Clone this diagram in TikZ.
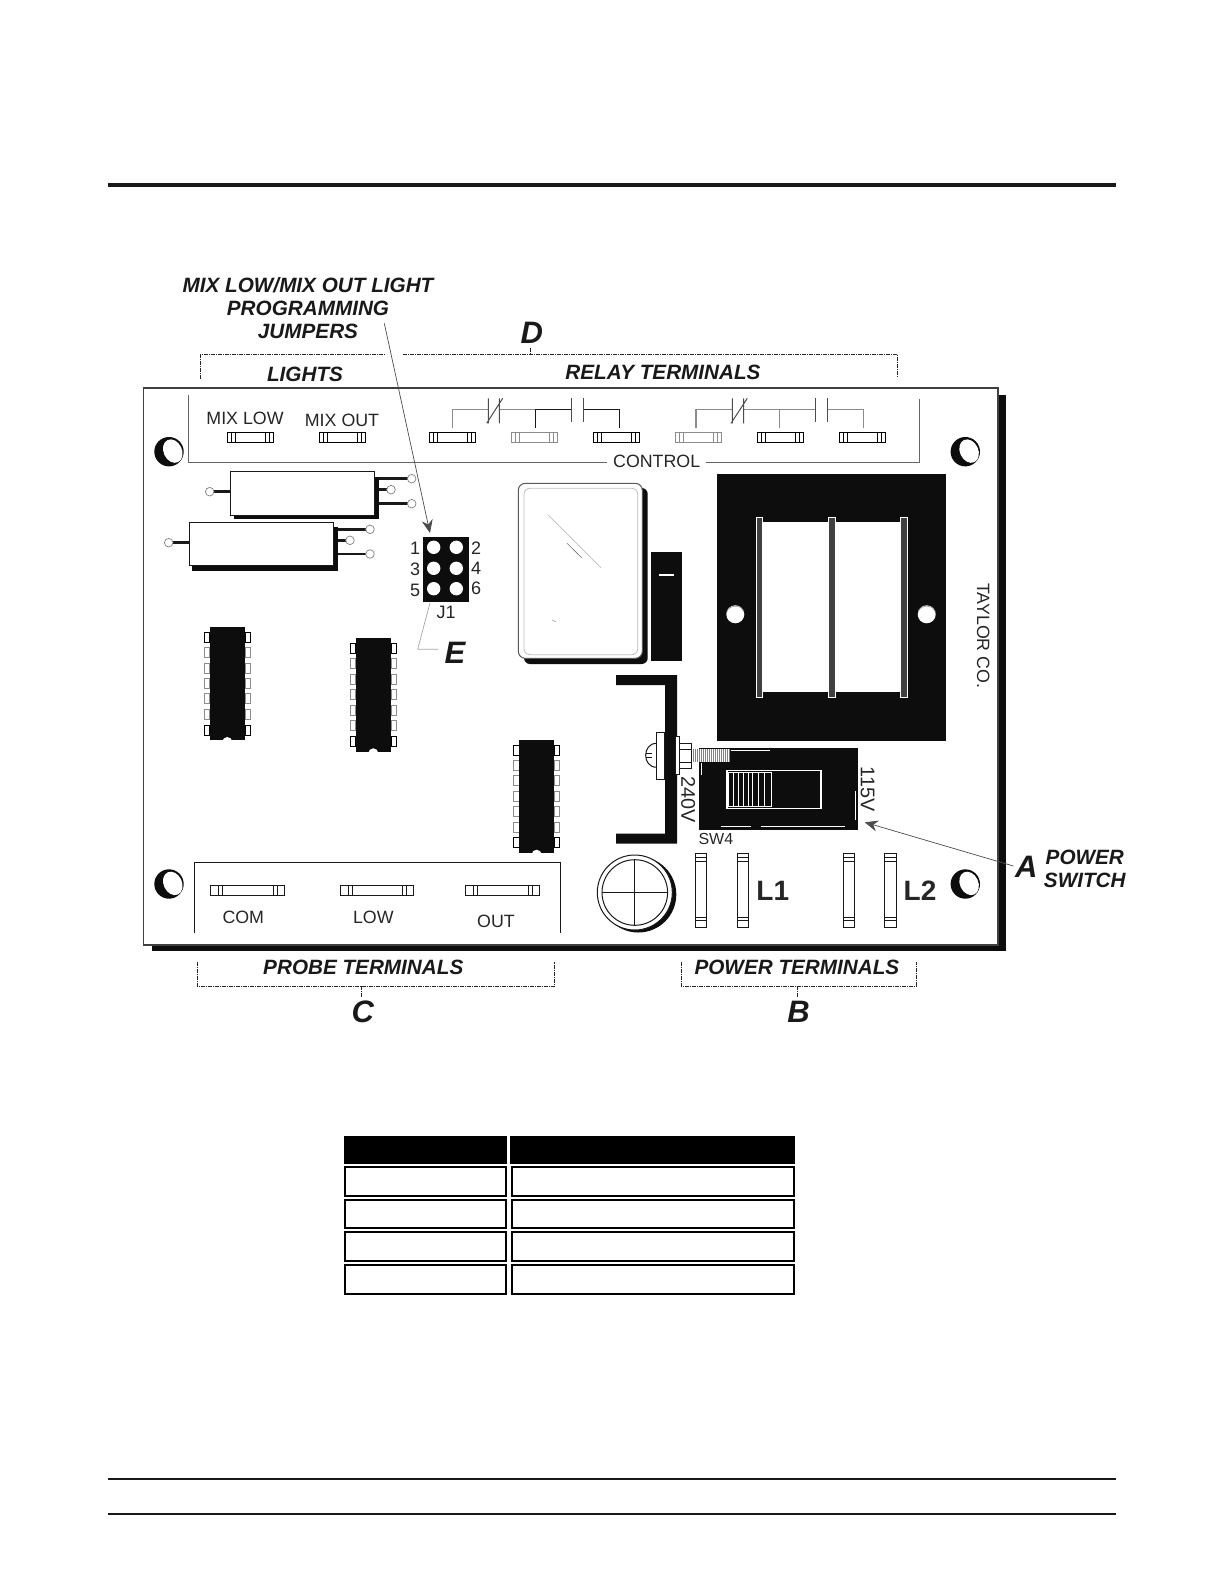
\documentclass[tikz,border=0pt]{standalone}
\usepackage{fontspec}
\setmainfont{Liberation Sans}
\usetikzlibrary{arrows.meta}
\tikzset{
	callout/.style={font=\fontsize{10.35}{11.6}\selectfont\bfseries\itshape,text=black!90,inner sep=0pt,align=center},
	bigletter/.style={font=\fontsize{15.5}{17}\selectfont\bfseries\itshape,text=black!90,inner sep=0pt},
	silk/.style={font=\fontsize{8.9}{10}\selectfont,text=black!85,inner sep=0pt},
	voltage/.style={font=\fontsize{9.9}{11}\selectfont,text=black!85,inner sep=0pt,rotate=-90},
	jumpernum/.style={font=\fontsize{9}{10}\selectfont,text=black!85,inner sep=0pt},
	linelabel/.style={font=\fontsize{14}{16}\selectfont\bfseries,text=black!85,inner sep=0pt},
	thinline/.style={line width=0.5pt,black!90},
	greywire/.style={line width=0.7pt,black!45},
	darkwire/.style={line width=0.5pt,black!90},
	bracketline/.style={line width=0.4pt,black!85,dash pattern=on 2pt off 0.5pt on 0.5pt off 0.5pt},
	pointer/.style={->,line width=0.35pt,black!70},
	pinline/.style={line width=1.3pt,black!90},
	pinhole/.style={line width=0.35pt,black!50,fill=white},
	tablecell/.style={line width=1pt,black}
}
\begin{document}
\begin{tikzpicture}[x=0.5pt,y=-0.5pt,>={Stealth[length=6.5pt,width=5.5pt]},line join=miter]
	\useasboundingbox (0,0) rectangle (1224,1584);
	% page rules
	\draw[line width=2.2pt,black!90] (108,185) -- (1116,185);
	\draw[line width=0.7pt,black!90] (108,1479) -- (1116,1479);
	\draw[line width=0.7pt,black!90] (108,1514) -- (1116,1514);
	% board
	\fill[black!95] (152,395) rectangle (1005.7,950.7);
	\draw[line width=0.8pt,black!75,fill=white] (143.5,388) rectangle (998,945);
	\draw[line width=0.5pt,black!60] (188.7,395) -- (188.7,462.3) -- (606.7,462.3);
	\draw[line width=0.5pt,black!60] (705.7,462.3) -- (919.3,462.3) -- (919.3,399);
	\draw[thinline] (194.3,933.3) -- (194.3,862.7) -- (560.7,862.7) -- (560.7,933.3);
	% mounting holes
	\foreach \hx/\hy in {169/451.7, 965.3/451.7, 169/884, 965.3/884}{
		\fill[black!95] (\hx,\hy) circle [radius=14.7];
		\fill[white,rotate around={25:(\hx+3.8,\hy-0.6)}] (\hx+3.8,\hy-0.6) ellipse [x radius=9.2, y radius=12.2];
	}
	% top row of terminals
	\foreach \tx/\tcol in {227.3/black, 319.3/black, 429.3/black, 511.3/black!45, 593.3/black, 675.3/black!45, 757.3/black, 839.3/black}{
		\draw[line width=0.5pt,color=\tcol] (\tx,432.3) rectangle ++(46,10.4);
		\foreach \tdx in {4,8,38,42.5}
			\draw[line width=0.5pt,color=\tcol] (\tx+\tdx,432.3) -- ++(0,10.4);
	}
	% bottom row of terminals
	\foreach \tx/\tw in {210.3/74.4, 340.3/73.4, 465.3/74.4}{
		\draw[thinline] (\tx,885.3) rectangle ++(\tw,10.4);
		\foreach \tdx in {8,12}{
			\draw[thinline] (\tx+\tdx,885.3) -- ++(0,10.4);
			\draw[thinline] (\tx+\tw-\tdx+1,885.3) -- ++(0,10.4);
		}
	}
	% relay contacts
	\draw[greywire] (452.3,427.7) -- (452.3,409.7) -- (488.3,409.7);
	\draw[greywire] (499.3,409.7) -- (535.7,409.7);
	\draw[darkwire] (535.7,427.7) -- (535.7,409.7) -- (571.7,409.7);
	\draw[darkwire] (583.3,409.7) -- (619.3,409.7) -- (619.3,427.7);
	\draw[line width=0.5pt,black!70] (488.3,398.3) -- (488.3,423.3) (499.3,398.3) -- (499.3,423.3) (486.7,423.3) -- (502.7,398.3);
	\draw[line width=0.5pt,black!70] (571.7,398.3) -- (571.7,422.3) (583.3,398.3) -- (583.3,422.3);
	\draw[greywire] (696,427.7) -- (696,409.7) -- (732.3,409.7);
	\draw[greywire] (743.7,409.7) -- (815.7,409.7) (779.3,409.7) -- (779.3,427.7);
	\draw[greywire] (827.3,409.7) -- (863.3,409.7) -- (863.3,427.7);
	\draw[line width=0.5pt,black!70] (732.3,398.3) -- (732.3,423.3) (743.7,398.3) -- (743.7,423.3) (731,423.3) -- (747.3,398.3);
	\draw[line width=0.5pt,black!70] (815.7,398.3) -- (815.7,422.3) (827.3,398.3) -- (827.3,422.3);
	% two long parts with pins
	\fill[black!95] (234,476.7) rectangle (378.7,519.3);
	\fill[black!95] (192,527) rectangle (337.7,570.7);
	\draw[pinline] (209.7,491.7) -- (230.3,491.7);
	\draw[pinline] (168.7,542.7) -- (189.3,542.7);
	\draw[pinline] (378.7,478.7) -- (411.7,478.7) (378.7,489.7) -- (391,489.7) (378.7,503.7) -- (411.7,503.7);
	\draw[pinline] (337.7,529.3) -- (370,529.3) (337.7,540.3) -- (350,540.3) (337.7,554) -- (370,554);
	\draw[thinline,fill=white] (230.3,471.3) rectangle (374.7,515.7);
	\draw[thinline,fill=white] (189.3,522.3) rectangle (333.7,565.7);
	\foreach \px/\py in {209.7/491.7, 411.7/478.7, 391/489.7, 411.7/503.7, 168.7/542.7, 370/529.3, 350/540.3, 370/554}
		\draw[pinhole] (\px,\py) circle [radius=4.3];
	% chips
	\foreach \icx/\icy in {209.7/627, 355.7/638.3, 519/739.7}{
		\foreach \pdy/\pcol in {10.3/black, 25.3/black!45, 41/black!45, 56.3/black!45, 71.7/black!45, 87.3/black!45, 103/black}{
			\draw[line width=0.5pt,color=\pcol,fill=white] (\icx-5.5,\icy+\pdy-5) rectangle ++(5.5,10);
			\draw[line width=0.5pt,color=\pcol,fill=white] (\icx+35.3,\icy+\pdy-5) rectangle ++(5.5,10);
		}
		\fill[black!95] (\icx,\icy) rectangle ++(35.3,113.4);
		\fill[white] (\icx+17.6,\icy+115) circle [radius=5];
	}
	% jumper block
	\node[fill=black!95,minimum width=22.85pt,minimum height=32.35pt,inner sep=0pt] (jumperblock) at (446.15,569.35) {};
	\foreach \jx in {433.7,456.3}
		\foreach \jy in {547.3,568.3,588.7}
			\fill[white] (\jx,\jy) circle [radius=6.7];
	\node[jumpernum] (pinone) at (415,548.3) {1};
	\node[jumpernum] (pinthree) at (415,569) {3};
	\node[jumpernum] (pinfive) at (415,590) {5};
	\node[jumpernum] (pintwo) at (476,548.3) {2};
	\node[jumpernum] (pinfour) at (476,568.7) {4};
	\node[jumpernum] (pinsix) at (476,588.7) {6};
	\node[jumpernum] (jumpername) at (446,612.7) {J1};
	% relay case and block
	\fill[black!95,rounded corners=3pt] (524,488) rectangle (647.7,664);
	\draw[line width=0.5pt,black!65,fill=white,rounded corners=3.5pt] (518.3,483.3) rectangle (642.3,658.3);
	\draw[line width=0.4pt,black!25,rounded corners=3pt] (524,488.3) rectangle (637.7,654.7);
	\draw[line width=0.3pt,black!30] (548.3,515) -- (601,567.7);
	\draw[line width=0.3pt,black!55] (567,543.3) -- (581.7,557.7);
	\draw[line width=0.3pt,black!40] (552.3,620) -- (555.7,621.7);
	\fill[black!95] (651,552) rectangle (682,660.7);
	\draw[line width=0.7pt,white] (659,575) -- (674,575);
	% transformer
	\fill[black!95] (717.3,474.3) rectangle (945.7,740.7);
	\fill[white] (762.7,521.7) rectangle (900,691.7);
	\foreach \bx/\bw in {756.3/6.4, 828.3/7.4, 900.3/6.7}
		\draw[line width=0.4pt,white,fill=black!75] (\bx,517.3) rectangle ++(\bw,180.4);
	\foreach \hx in {735.3,926.7}{
		\fill[white] (\hx,614.3) circle [radius=9];
		\draw[line width=0.3pt,black!40] (\hx-8.5,612) arc [start angle=190, end angle=350, x radius=8.7, y radius=7];
	}
	% switch and bracket
	\fill[black!95] (616,675) -- (677,675) -- (677,843.7) -- (616,843.7) -- (616,833.7) -- (665.2,833.7) -- (665.2,685) -- (616,685) -- cycle;
	\fill[black!95] (698.6,748.3) rectangle (858,829.7);
	\draw[line width=0.5pt,white] (730.7,750) -- (770,750) (701.4,763) -- (701.4,775) (855.5,791) -- (855.5,820);
	\draw[line width=0.5pt,white] (721,826) -- (751,826) (760.7,826) -- (844.5,826);
	\draw[line width=0.7pt,white] (726.9,770.3) rectangle (821,808.3);
	\draw[line width=0.5pt,white] (728.6,772.5) rectangle (771,806);
	\foreach \sx in {733,738,743,748,752.5,758,764}
		\draw[line width=0.4pt,white] (\sx,772.5) -- (\sx,806);
	% screw
	\draw[thinline,fill=white] (656.6,743.3) .. controls (642,743.3) and (642,767.3) .. (656.6,767.3);
	\draw[thinline] (645.5,753.5) -- (652,753.5) (645.5,757.5) -- (652,757.5);
	\draw[thinline,fill=white] (656.6,732.3) rectangle (664.8,779.3);
	\fill[black!95] (665,730) rectangle (675.2,782);
	\draw[thinline,fill=white] (675.2,736.3) rectangle (679.7,774.7);
	\draw[thinline,fill=white] (679.7,743.3) rectangle (691.7,768);
	\draw[thinline] (679.7,749.3) -- (691.7,749.3) (679.7,762) -- (691.7,762);
	\fill[white] (691.7,749.3) rectangle (730.3,762);
	\foreach \sx in {693,695,...,729}
		\draw[line width=0.5pt,black!50] (\sx,749.3) -- (\sx,762);
	% knob
	\fill[black!95] (638.3,894.5) circle [radius=38];
	\draw[line width=0.5pt,black!90,fill=white] (634.8,892.5) circle [radius=37.5];
	\draw[line width=0.5pt,black!90] (634.8,892.5) circle [radius=32.8];
	\draw[line width=0.5pt,black!90] (602,892.7) -- (667.6,892.7) (634.8,859.7) -- (634.8,925.3);
	% power terminals
	\foreach \tx/\tw in {695.5/11.4, 737.6/10.4, 843.8/11, 884.8/11.4}{
		\draw[thinline] (\tx,853.3) rectangle ++(\tw,74);
		\foreach \tdy in {4,8.3,64,67}
			\draw[thinline] (\tx,853.3+\tdy) -- ++(\tw,0);
	}
	% board printing
	\node[silk] (mixlow) at (245,418.5) {MIX LOW};
	\node[silk] (mixout) at (342,420) {MIX OUT};
	\node[silk] (controlname) at (656.7,461.5) {CONTROL};
	\node[silk,rotate=-90] (makername) at (983.3,635.7) {TAYLOR CO.};
	\node[voltage] (lowvolt) at (867.6,789) {115V};
	\node[voltage] (highvolt) at (688.3,800) {240V};
	\node[font=\fontsize{8}{9}\selectfont,text=black!85,inner sep=0pt] (switchname) at (715.9,839) {SW4};
	\node[silk] (comname) at (243.3,917.7) {COM};
	\node[silk] (lowname) at (373.3,917.7) {LOW};
	\node[silk] (outname) at (496,921.7) {OUT};
	\node[linelabel] (lineone) at (772.8,890.5) {L1};
	\node[linelabel] (linetwo) at (920,890.5) {L2};
	% outside labels and brackets
	\node[callout] (jumperlabel) at (308,308) {MIX LOW/MIX OUT LIGHT\\PROGRAMMING\\JUMPERS};
	\node[callout] (lightslabel) at (305,374) {LIGHTS};
	\node[callout] (relaylabel) at (663,372) {RELAY TERMINALS};
	\node[callout] (probelabel) at (363.3,967.7) {PROBE TERMINALS};
	\node[callout] (powerlabel) at (796.9,967.3) {POWER TERMINALS};
	\node[callout] (switchlabel) at (1084.8,868.5) {POWER\\SWITCH};
	\node[bigletter] (lettera) at (1026.2,867.3) {A};
	\node[bigletter] (letterb) at (798.6,1011.7) {B};
	\node[bigletter] (letterc) at (362.7,1011.7) {C};
	\node[bigletter] (letterd) at (531.7,332.7) {D};
	\node[bigletter] (lettere) at (455,652.7) {E};
	\draw[bracketline] (200.3,379) -- (200.3,354.3) -- (384,354.3);
	\draw[bracketline] (403,354.3) -- (897.3,354.3) -- (897.3,378);
	\draw[bracketline] (530.7,348) -- (530.7,354.3);
	\draw[bracketline] (197.3,961.7) -- (197.3,986.3) -- (554.3,986.3) -- (554.3,961.7);
	\draw[bracketline] (361.3,986.3) -- (361.3,996.7);
	\draw[bracketline] (681.4,961.7) -- (681.4,986.3) -- (915.9,986.3) -- (915.9,961.7);
	\draw[bracketline] (797.6,986.3) -- (797.6,996.7);
	\coordinate (jumpertail) at (384.3,323.3);
	\coordinate (jumpertip) at (430,533);
	\coordinate (switchtail) at (1013.4,866);
	\coordinate (switchtip) at (864.8,822.3);
	\coordinate (ebend) at (417.7,649.3);
	\coordinate (eend) at (438.3,649.3);
	\coordinate (estart) at (430,602.7);
	\draw[pointer] (jumpertail) -- (jumpertip);
	\draw[pointer] (switchtail) -- (switchtip);
	\draw[line width=0.35pt,black!35] (estart) -- (ebend) -- (eend);
	% table
	\fill[black] (344,1136) rectangle (507,1164);
	\fill[black] (510,1136) rectangle (795,1164);
	\foreach \rtop/\rbot in {1167/1195.7, 1200/1227.7, 1232/1260.7, 1265/1293.7}{
		\draw[tablecell] (345,\rtop) rectangle (506,\rbot);
		\draw[tablecell] (512,\rtop) rectangle (794,\rbot);
	}
\end{tikzpicture}
\end{document}
